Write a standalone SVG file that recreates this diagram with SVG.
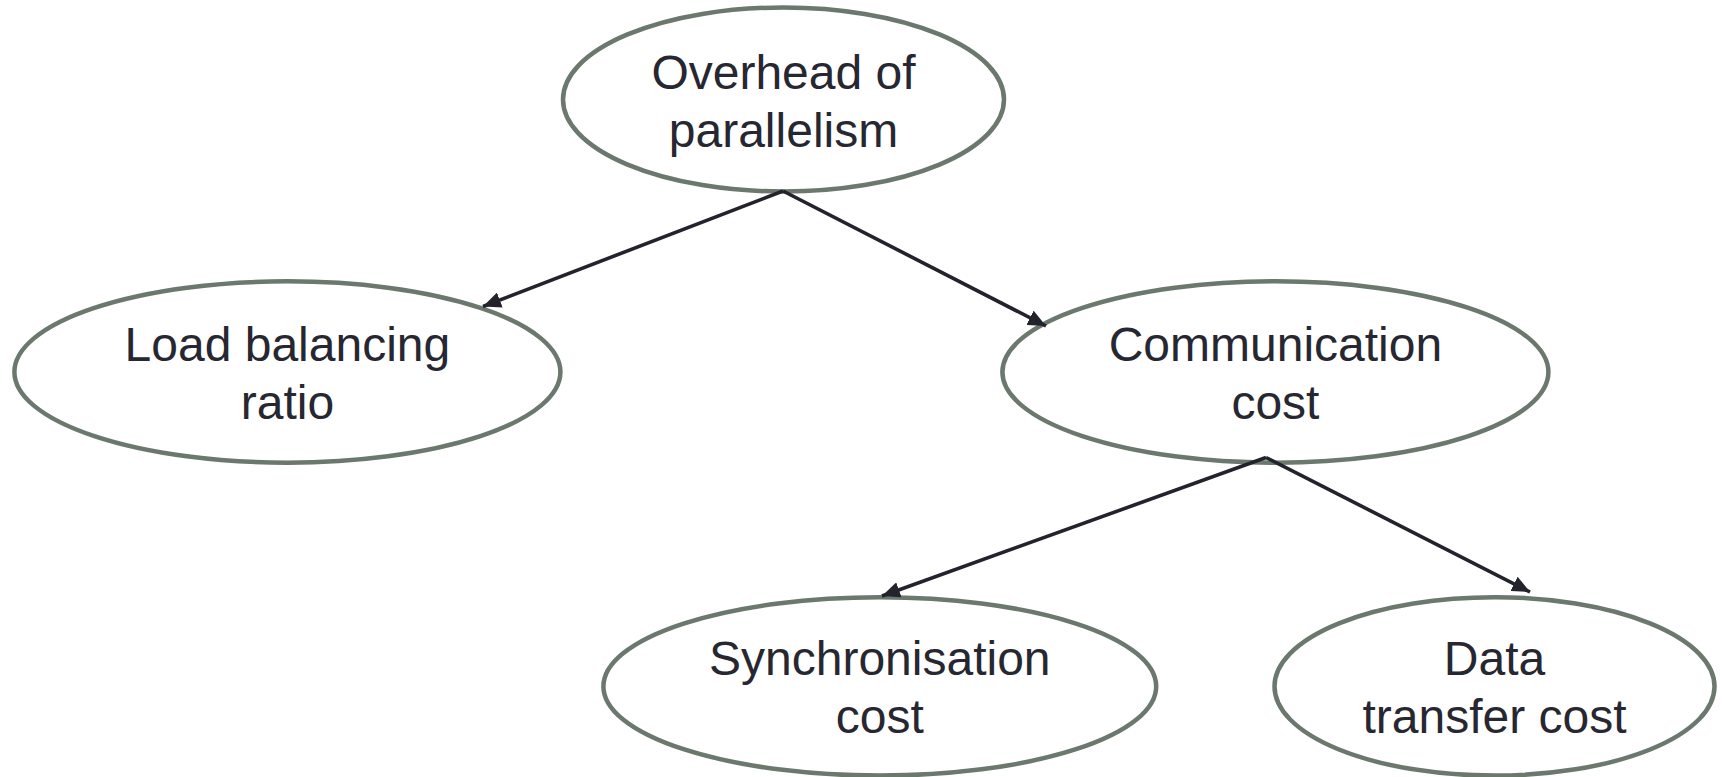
<svg xmlns="http://www.w3.org/2000/svg" width="1723" height="777" viewBox="0 0 1723 777">
<style>
.node ellipse{fill:#ffffff;stroke:#6b786d;stroke-width:4.5}
.node text{font-family:"Liberation Sans",Arial,sans-serif;font-size:48px;fill:#272731;text-anchor:middle}
.edge{stroke:#23232d;stroke-width:3.6;fill:none;marker-end:url(#arr)}
</style>
<defs>
<marker id="arr" markerUnits="userSpaceOnUse" markerWidth="20" markerHeight="16" refX="18" refY="8" orient="auto">
<path d="M0,0 L18,8 L0,16 z" fill="#23232d"/>
</marker>
</defs>
<rect width="1723" height="777" fill="#ffffff"/>
<g id="n-overhead" class="node">
<ellipse cx="783.5" cy="99.5" rx="220.5" ry="92"/>
<text x="783.5" y="88.5">Overhead of</text>
<text x="783.5" y="146.5">parallelism</text>
</g>
<g id="n-load" class="node">
<ellipse cx="287.4" cy="372" rx="273" ry="90.7"/>
<text x="287.4" y="361">Load balancing</text>
<text x="287.4" y="419">ratio</text>
</g>
<g id="n-comm" class="node">
<ellipse cx="1275.4" cy="372" rx="273" ry="90.7"/>
<text x="1275.4" y="361">Communication</text>
<text x="1275.4" y="419">cost</text>
</g>
<g id="n-sync" class="node">
<ellipse cx="879.8" cy="686.4" rx="276.4" ry="89.2"/>
<text x="879.8" y="675.4">Synchronisation</text>
<text x="879.8" y="733.4">cost</text>
</g>
<g id="n-data" class="node">
<ellipse cx="1494.5" cy="686.4" rx="220" ry="89.2"/>
<text x="1494.5" y="675.4">Data</text>
<text x="1494.5" y="733.4">transfer cost</text>
</g>
<g id="connectors">
<line class="edge" x1="783" y1="191" x2="483" y2="306.5"/>
<line class="edge" x1="783" y1="191" x2="1046" y2="326"/>
<line class="edge" x1="1266" y1="457.5" x2="882" y2="596"/>
<line class="edge" x1="1266" y1="457.5" x2="1530" y2="592"/>
</g>
</svg>
